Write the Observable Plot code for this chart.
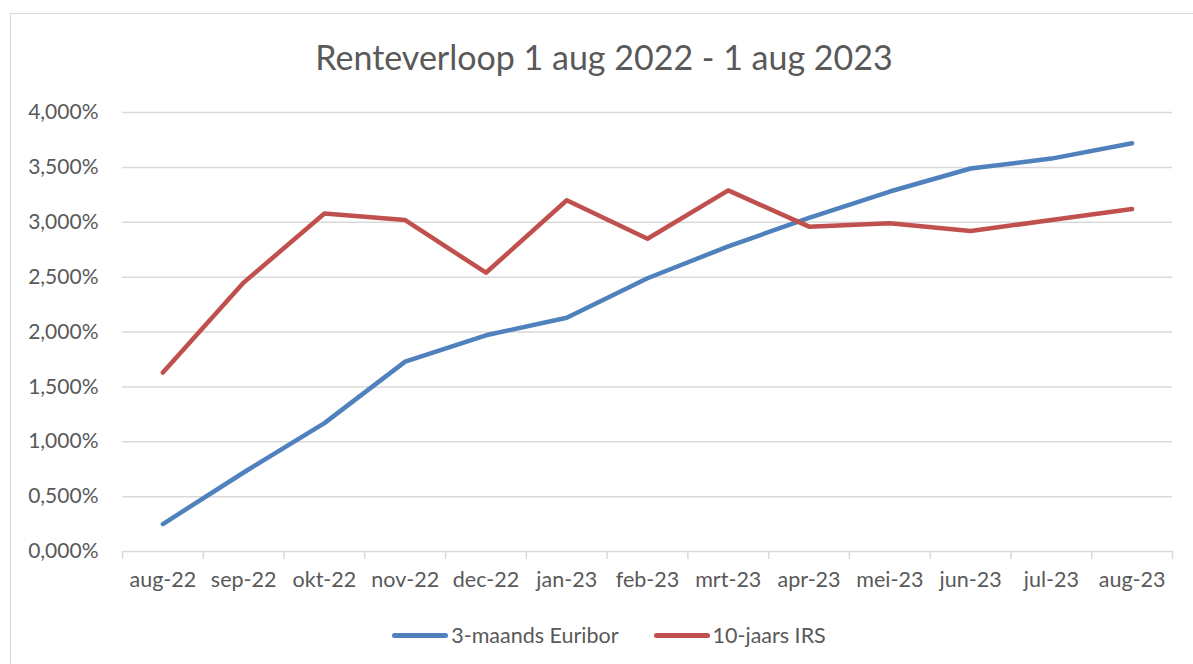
<!DOCTYPE html>
<html>
<head>
<meta charset="utf-8">
<script src="https://cdn.jsdelivr.net/npm/d3@7"></script>
<script src="https://cdn.jsdelivr.net/npm/@observablehq/plot@0.6"></script>
<style>
  html, body { margin: 0; padding: 0; background: #fff; }
  #wrap { position: relative; width: 1193px; height: 664px; overflow: hidden; font-family: Lato, "Open Sans", sans-serif; color: #595959; }
  #frame { position: absolute; left: 10px; top: 13px; width: 1220px; height: 700px; border: 1.5px solid #d9d9d9; box-sizing: border-box; }
  #title { position: absolute; left: 0; width: 1208px; top: 36px; text-align: center; font-size: 34px; line-height: 42px; }
  #chart { position: absolute; left: 0; top: 90px; }
  #legend { position: absolute; left: 0; width: 1218px; top: 621px; display: flex; justify-content: center; align-items: center; font-size: 21.5px; line-height: 28px; gap: 35px; }
  .item { display: flex; align-items: center; }
  .sw { display: inline-block; width: 56px; height: 5px; border-radius: 3px; margin-right: 3px; }
</style>
</head>
<body>
<div id="wrap">
  <div id="frame"></div>
  <div id="title">Renteverloop 1 aug 2022 - 1 aug 2023</div>
  <div id="chart"></div>
  <div id="legend"></div>
</div>
<script>
const months = ["aug-22","sep-22","okt-22","nov-22","dec-22","jan-23","feb-23","mrt-23","apr-23","mei-23","jun-23","jul-23","aug-23"];
const euribor = [0.25, 0.72, 1.17, 1.73, 1.97, 2.13, 2.49, 2.78, 3.04, 3.28, 3.49, 3.58, 3.72];
const irs = [1.63, 2.45, 3.08, 3.02, 2.54, 3.20, 2.85, 3.29, 2.96, 2.99, 2.92, 3.02, 3.12];
const seriesNames = ["3-maands Euribor", "10-jaars IRS"];
const seriesColors = ["#4f81bd", "#c0504d"];
const yTicks = [0, 0.5, 1, 1.5, 2, 2.5, 3, 3.5, 4];

const rows = [];
months.forEach((m, i) => {
  rows.push({i, month: m, series: seriesNames[0], value: euribor[i]});
  rows.push({i, month: m, series: seriesNames[1], value: irs[i]});
});
const idx = months.map((_, i) => i);
const bounds = d3.range(-0.5, months.length, 1);

const fmt = d => d.toFixed(3).replace(".", ",") + "%";

const plot = Plot.plot({
  width: 1193,
  height: 520,
  marginLeft: 122,
  marginRight: 21,
  marginTop: 22,
  marginBottom: 59,
  style: {fontFamily: "Lato, 'Open Sans', sans-serif", fontSize: "21px", color: "#595959", background: "transparent", overflow: "visible"},
  x: {domain: [-0.5, months.length - 0.5], axis: null},
  y: {domain: [0, 4], axis: null},
  color: {domain: seriesNames, range: seriesColors},
  marks: [
    Plot.gridY(yTicks, {stroke: "#d9d9d9", strokeOpacity: 1, strokeWidth: 1.5}),
    Plot.axisY(yTicks, {tickSize: 0, tickPadding: 24, tickFormat: fmt, fill: "#595959", fontSize: 21, label: null}),
    Plot.axisX(bounds, {tickSize: 8, stroke: "#d9d9d9", strokeWidth: 1.5, tickFormat: () => "", label: null}),
    Plot.axisX(idx, {tickSize: 0, tickPadding: 20, tickFormat: i => months[i], fill: "#595959", fontSize: 21.5, label: null}),
    Plot.line(rows, {x: "i", y: "value", stroke: "series", z: "series", strokeWidth: 4.5, strokeLinecap: "round", strokeLinejoin: "round"})
  ]
});
document.getElementById("chart").appendChild(plot);

const legend = document.getElementById("legend");
seriesNames.forEach((name, k) => {
  const item = document.createElement("div");
  item.className = "item";
  const sw = document.createElement("span");
  sw.className = "sw";
  sw.style.background = seriesColors[k];
  const label = document.createElement("span");
  label.textContent = name;
  item.appendChild(sw);
  item.appendChild(label);
  legend.appendChild(item);
});
</script>
</body>
</html>
